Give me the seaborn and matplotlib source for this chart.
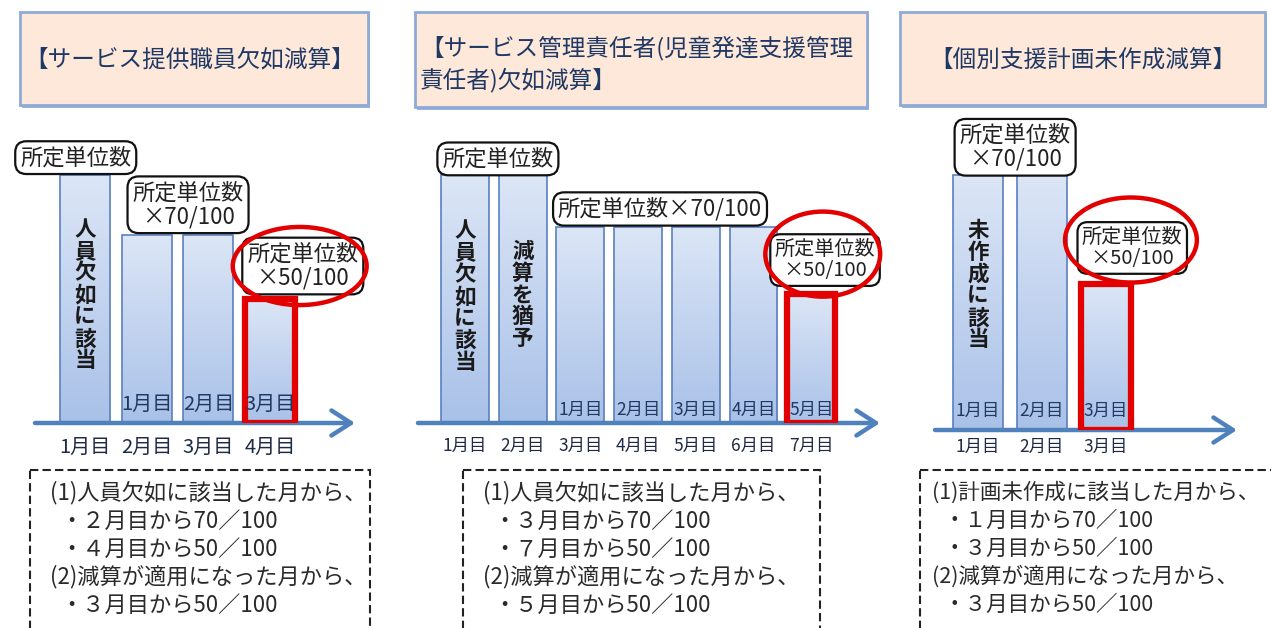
import numpy as np
import matplotlib
matplotlib.use("Agg")
import matplotlib.pyplot as plt
import seaborn as sns
from matplotlib.patches import Rectangle, Ellipse
from matplotlib.colors import LinearSegmentedColormap

sns.set_style("white")
plt.rcParams['font.family'] = ['Noto Sans CJK JP', 'DejaVu Sans']

# ---------------- data ----------------
p1_months = ["1月目", "2月目", "3月目", "4月目"]
p1_values = [100, 76, 76, 50]
p1_inner = ["", "1月目", "2月目", "3月目"]

p2_months = ["1月目", "2月目", "3月目", "4月目", "5月目", "6月目", "7月目"]
p2_values = [100, 100, 79, 79, 79, 79, 52]
p2_inner = ["", "", "1月目", "2月目", "3月目", "4月目", "5月目"]

p3_months = ["1月目", "2月目", "3月目"]
p3_values = [103, 103, 59]
p3_inner = ["1月目", "2月目", "3月目"]

headers = ["【サービス提供職員欠如減算】",
           "【サービス管理責任者(児童発達支援管理\n責任者)欠如減算】",
           "【個別支援計画未作成減算】"]

notes1 = ["(1)人員欠如に該当した月から、", "・２月目から70／100", "・４月目から50／100",
          "(2)減算が適用になった月から、", "・３月目から50／100"]
notes2 = ["(1)人員欠如に該当した月から、", "・３月目から70／100", "・７月目から50／100",
          "(2)減算が適用になった月から、", "・５月目から50／100"]
notes3 = ["(1)計画未作成に該当した月から、", "・１月目から70／100", "・３月目から50／100",
          "(2)減算が適用になった月から、", "・３月目から50／100"]

# ---------------- figure ----------------
W, H = 1271, 628
SC = 2.48  # pixels per value unit
fig = plt.figure(figsize=(W / 100, H / 100), dpi=100)
fig.patch.set_facecolor("white")

ov = fig.add_axes([0, 0, 1, 1])
ov.set_xlim(0, W)
ov.set_ylim(H, 0)
ov.axis("off")

NAVY = "#1F3864"

# header boxes
hdr_boxes = [(20, 12, 348, 93), (415, 12, 452, 95), (900, 12, 365, 93)]
for (x, y, w, h) in hdr_boxes:
    ov.add_patch(Rectangle((x + 2, y + 3), w, h, fc="#9DB3D6", ec="none", zorder=1))
    ov.add_patch(Rectangle((x, y), w, h, fc="#FDE8DA", ec="#8EAAD6", lw=2, zorder=2))
ov.text(190, 60, headers[0], ha="center", va="center", fontsize=17, color=NAVY, zorder=3)
ov.text(420, 64, headers[1], ha="left", va="center", fontsize=17, color=NAVY,
        linespacing=1.35, zorder=3)
ov.text(1083, 60, headers[2], ha="center", va="center", fontsize=17, color=NAVY, zorder=3)

# dashed note boxes
note_boxes = [(30, 470, 340, 20, 30, 16), (463, 470, 357, 20, 30, 16),
              (920, 470, 360, 12, 24, 15.5)]
note_texts = [notes1, notes2, notes3]
line_y = [493, 521, 549, 577, 605]
for (x, y, w, off1, off2, fs), lines in zip(note_boxes, note_texts):
    ov.add_patch(Rectangle((x, y), w, 200, fc="none", ec="#222222", lw=1.5,
                           ls=(0, (4, 2)), zorder=2))
    for ly, t in zip(line_y, lines):
        tx = x + off1 if t.startswith("(") else x + off2
        ov.text(tx, ly, t, ha="left", va="center", fontsize=fs, color="#2a2a2a", zorder=3)

cmap = LinearSegmentedColormap.from_list("bar", ["#A9C1E8", "#DCE6F6"])


def make_panel(x0, x1, yaxis, c0, step, months, values, inner, width,
               tick_fs, tick_pad, inner_y, inner_fs, red_idx):
    ytop = 100
    ax = fig.add_axes([x0 / W, 1 - yaxis / H, (x1 - x0) / W, (yaxis - ytop) / H])
    ax.set_facecolor("none")
    sns.barplot(x=months, y=values, ax=ax, color="#C3D4EF", saturation=1,
                width=width, edgecolor="#5A7FBF", linewidth=1.2, errorbar=None)
    xlim = ((x0 - c0) / step, (x1 - c0) / step)
    ylim = (0, (yaxis - ytop) / SC)
    grad = np.linspace(0, 1, 256).reshape(-1, 1)
    for i, p in enumerate(ax.patches):
        bx, bw, bh = p.get_x(), p.get_width(), p.get_height()
        im = ax.imshow(grad, extent=[bx, bx + bw, 0, bh], origin="lower", cmap=cmap,
                       aspect="auto", zorder=0.9)
        im.set_clip_path(p)
        p.set_facecolor("none")
        p.set_zorder(1)
        if i == red_idx:
            p.set_edgecolor("#E30000")
            p.set_linewidth(4.5)
            p.set_zorder(3)
    ax.set_xlim(*xlim)
    ax.set_ylim(*ylim)
    ax.annotate("", xy=(xlim[1], 0), xytext=(xlim[0], 0),
                arrowprops=dict(arrowstyle="->,head_length=0.7,head_width=0.45", lw=3.2,
                                color="#4F81BD", mutation_scale=20, shrinkA=0, shrinkB=0),
                annotation_clip=False, zorder=2)
    for i, t in enumerate(inner):
        if t:
            ax.text(i, inner_y, t, ha="center", va="center", fontsize=inner_fs,
                    color=NAVY, zorder=4)
    ax.tick_params(axis="x", length=0, pad=tick_pad, labelsize=tick_fs, labelcolor="#1F2A44")
    ax.set_yticks([])
    ax.set_xlabel("")
    ax.set_ylabel("")
    for s in ax.spines.values():
        s.set_visible(False)
    return ax


def label_box(ax, x, y, text, fs=16):
    ax.text(x, y, text, ha="center", va="center", fontsize=fs, color="#222222",
            multialignment="center", linespacing=1.05, zorder=5, clip_on=False,
            bbox=dict(boxstyle="round,pad=0.22,rounding_size=0.5", fc="white",
                      ec="#111111", lw=1.6))


def vtext(ax, x, y, text):
    ax.text(x, y, "\n".join(text), ha="center", va="center", fontsize=15.5,
            fontweight="bold", color="#1a1a1a", linespacing=1.05, zorder=4)


def ring(ax, x, y, w, h):
    ax.add_patch(Ellipse((x, y), w, h, fc="none", ec="#E30000", lw=3.2, zorder=6,
                         clip_on=False))


# panel 1
a1 = make_panel(35, 355, 423, 85, 61.7, p1_months, p1_values, p1_inner, 0.81,
                14.5, 10, 7.3, 14.5, 3)
label_box(a1, -0.15, 107, "所定単位数")
label_box(a1, 1.67, 88, "所定単位数\n×70/100")
label_box(a1, 3.53, 63.3, "所定単位数\n×50/100")
ring(a1, 3.48, 63.3, 2.17, 31.5)
vtext(a1, 0, 51.6, "人員欠如に該当")

# panel 2
a2 = make_panel(418, 880, 423, 465, 57.7, p2_months, p2_values, p2_inner, 0.83,
                12.5, 10, 5.2, 12.5, 6)
label_box(a2, 0.57, 106.5, "所定単位数")
label_box(a2, 3.38, 86.3, "所定単位数×70/100")
label_box(a2, 6.24, 65.7, "所定単位数\n×50/100", fs=14.5)
ring(a2, 6.2, 68.1, 1.99, 34.3)
vtext(a2, 0, 51, "人員欠如に該当")
vtext(a2, 1, 51.6, "減算を猶予")

# panel 3
a3 = make_panel(935, 1237, 430, 978, 64, p3_months, p3_values, p3_inner, 0.77,
                12.5, 6, 7.7, 12.5, 2)
label_box(a3, 0.58, 114, "所定単位数\n×70/100")
label_box(a3, 2.41, 73.4, "所定単位数\n×50/100", fs=14.5)
ring(a3, 2.39, 76.6, 2.06, 34.3)
vtext(a3, 0, 58.5, "未作成に該当")

fig.savefig("out.png", dpi=100, facecolor="white")
